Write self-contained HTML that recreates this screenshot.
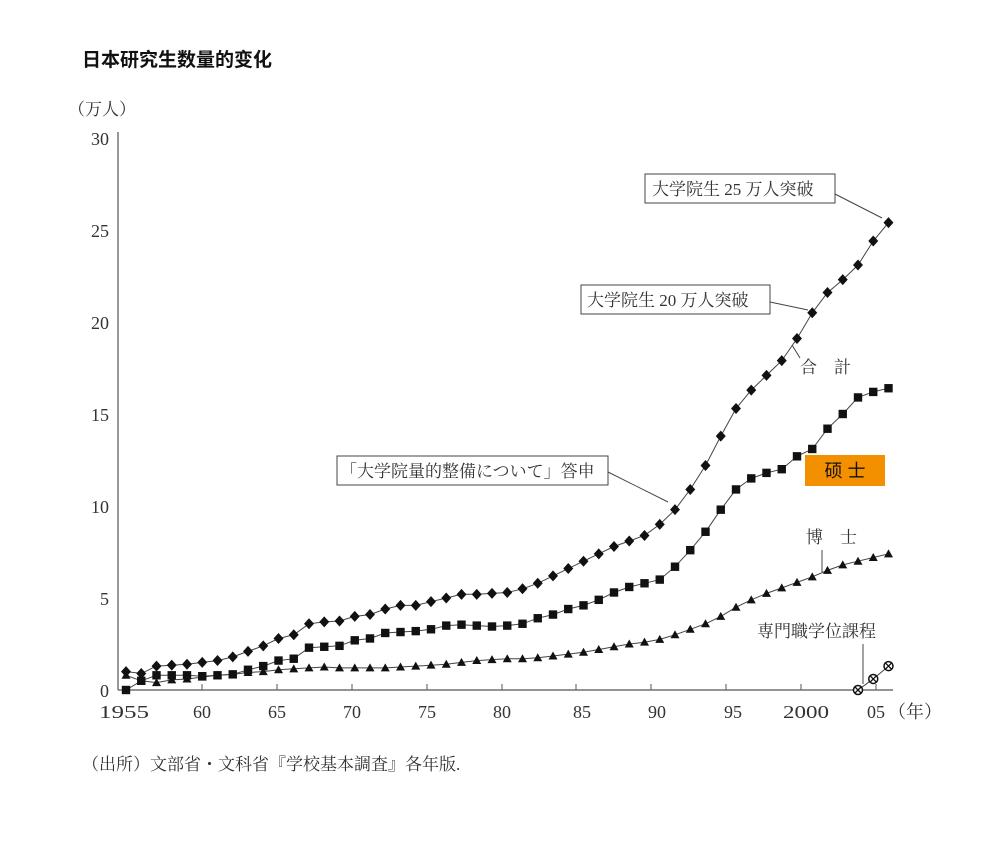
<!DOCTYPE html>
<html><head><meta charset="utf-8"><style>
html,body{margin:0;padding:0;background:#fff;width:1008px;height:843px;overflow:hidden}
svg text{font-family:"Liberation Serif","Noto Serif CJK SC",serif;fill:#333}
</style></head><body>
<svg id="s" width="1008" height="843" xmlns="http://www.w3.org/2000/svg">
<text x="82" y="66" style="font-family:'Liberation Sans','Noto Sans CJK SC',sans-serif;font-weight:bold;fill:#111" font-size="19">日本研究生数量的变化</text>
<text x="68" y="115" font-size="17">（万人）</text>
<g font-size="18" text-anchor="end">
<text x="109" y="145">30</text><text x="109" y="237">25</text><text x="109" y="329">20</text>
<text x="109" y="421">15</text><text x="109" y="513">10</text><text x="109" y="605">5</text><text x="109" y="697">0</text>
</g>
<line x1="118" y1="132" x2="118" y2="690" stroke="#555" stroke-width="1.2"/>
<line x1="118" y1="690" x2="893" y2="690" stroke="#555" stroke-width="1.2"/>
<g id="ticks" stroke="#555"></g>
<g font-size="18" text-anchor="middle">
<text x="124" y="718" textLength="50" lengthAdjust="spacingAndGlyphs">1955</text><text x="202" y="718">60</text><text x="277" y="718">65</text>
<text x="352" y="718">70</text><text x="427" y="718">75</text><text x="502" y="718">80</text>
<text x="582" y="718">85</text><text x="657" y="718">90</text><text x="733" y="718">95</text>
<text x="806" y="718" textLength="46" lengthAdjust="spacingAndGlyphs">2000</text><text x="876" y="718">05</text><text x="915" y="718">（年）</text>
</g>
<text x="82" y="770" font-size="17">（出所）文部省・文科省『学校基本調査』各年版.</text>
<g id="data"></g>
<rect x="645" y="174" width="190" height="29" fill="#fff" stroke="#444"/>
<text x="652" y="195" font-size="17">大学院生 25 万人突破</text>
<line x1="835" y1="194" x2="882" y2="218" stroke="#444"/>
<rect x="581" y="285" width="189" height="29" fill="#fff" stroke="#444"/>
<text x="587" y="306" font-size="17">大学院生 20 万人突破</text>
<line x1="770" y1="302" x2="808" y2="310" stroke="#444"/>
<rect x="337" y="456" width="271" height="29" fill="#fff" stroke="#444"/>
<text x="340" y="477" font-size="17">「大学院量的整備について」答申</text>
<line x1="608" y1="472" x2="668" y2="502" stroke="#444"/>
<text x="800" y="373" font-size="17">合　計</text>
<line x1="800" y1="358" x2="792" y2="345" stroke="#444"/>
<rect x="805" y="455" width="80" height="31" fill="#f39000"/>
<text x="845" y="477" font-size="18" text-anchor="middle" style="fill:#111;font-family:'Liberation Sans','Noto Sans CJK SC',sans-serif">硕 士</text>
<text x="806" y="543" font-size="17">博　士</text>
<line x1="822" y1="550" x2="822" y2="572" stroke="#444"/>
<text x="757" y="637" font-size="17">専門職学位課程</text>
<line x1="863" y1="644" x2="863" y2="684" stroke="#444"/>
</svg>
<script>
var tot=[1.0,0.9,1.3,1.35,1.4,1.5,1.6,1.8,2.1,2.4,2.8,3.0,3.6,3.7,3.75,4.0,4.1,4.4,4.6,4.6,4.8,5.0,5.2,5.2,5.25,5.3,5.5,5.8,6.2,6.6,7.0,7.4,7.8,8.1,8.4,9.0,9.8,10.9,12.2,13.8,15.3,16.3,17.1,17.9,19.1,20.5,21.6,22.3,23.1,24.4,25.4];
var mas=[0.0,0.5,0.8,0.8,0.8,0.75,0.8,0.85,1.1,1.3,1.6,1.7,2.3,2.35,2.4,2.7,2.8,3.1,3.15,3.2,3.3,3.5,3.55,3.5,3.45,3.5,3.6,3.9,4.1,4.4,4.6,4.9,5.3,5.6,5.8,6.0,6.7,7.6,8.6,9.8,10.9,11.5,11.8,12.0,12.7,13.1,14.2,15.0,15.5,15.9,16.2,16.4];
mas.splice(48,1);
var doc=[0.8,0.5,0.4,0.55,0.6,0.7,0.8,0.85,0.95,1.0,1.1,1.15,1.2,1.25,1.2,1.2,1.2,1.2,1.25,1.3,1.35,1.4,1.5,1.6,1.65,1.7,1.7,1.75,1.85,1.95,2.05,2.2,2.35,2.5,2.6,2.75,3.0,3.3,3.6,4.0,4.5,4.9,5.25,5.55,5.85,6.15,6.5,6.8,7.0,7.2,7.4];
function X(i){return 126+i*15.25}function Y(v){return 690-v*18.4}
var s="";
function line(a){var p=a.map(function(v,i){return X(i).toFixed(1)+","+Y(v).toFixed(1)}).join(" ");s+='<polyline points="'+p+'" fill="none" stroke="#444" stroke-width="1"/>';}
line(tot);line(mas);line(doc);
tot.forEach(function(v,i){var x=X(i),y=Y(v);s+='<polygon points="'+x+','+(y-5.5)+' '+(x+5)+','+y+' '+x+','+(y+5.5)+' '+(x-5)+','+y+'" fill="#111"/>';});
mas.forEach(function(v,i){var x=X(i),y=Y(v);s+='<rect x="'+(x-4.2)+'" y="'+(y-4.2)+'" width="8.4" height="8.4" fill="#111"/>';});
doc.forEach(function(v,i){var x=X(i),y=Y(v);s+='<polygon points="'+x+','+(y-4.5)+' '+(x+4.5)+','+(y+3.5)+' '+(x-4.5)+','+(y+3.5)+'" fill="#111"/>';});
var pr=[[48,0],[49,0.6],[50,1.3]];
s+='<polyline points="'+pr.map(function(p){return X(p[0])+","+Y(p[1])}).join(" ")+'" fill="none" stroke="#444"/>';
pr.forEach(function(p){var x=X(p[0]),y=Y(p[1]);s+='<circle cx="'+x+'" cy="'+y+'" r="4.5" fill="#fff" stroke="#111" stroke-width="1.5"/><path d="M'+(x-3)+' '+(y-3)+'L'+(x+3)+' '+(y+3)+'M'+(x+3)+' '+(y-3)+'L'+(x-3)+' '+(y+3)+'" stroke="#111" stroke-width="1.3"/>';});
document.getElementById("data").innerHTML=s;
var t="";[202,277,352,427,502,576,651,726,801,876].forEach(function(x){t+='<line x1="'+x+'" y1="684" x2="'+x+'" y2="690"/>';});
document.getElementById("ticks").innerHTML=t;
</script>
</body></html>
